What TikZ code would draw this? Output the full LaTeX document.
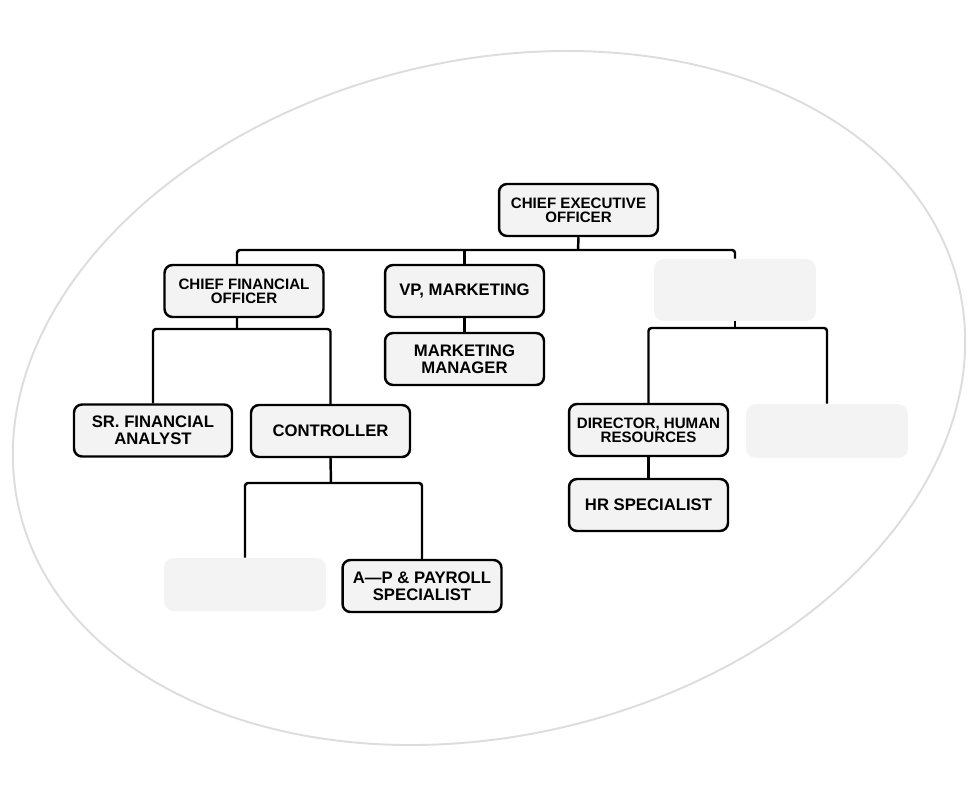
\documentclass[tikz,border=0pt]{standalone}
\usepackage{fontspec}
\setmainfont{Liberation Sans}
\usetikzlibrary{calc}

\definecolor{boxgray}{HTML}{F3F3F3}
\definecolor{ringgray}{HTML}{DDDDDD}

\begin{document}
\begin{tikzpicture}[x=0.02cm, y=-0.02cm,
    post/.style={draw, line width=1.4pt, rounded corners=0.16cm, fill=boxgray, minimum width=3.18cm, minimum height=1.04cm, inner sep=0pt, align=center, font=\fontsize{9.5}{9.4}\selectfont\bfseries},
    small/.style={font=\fontsize{8.6}{7.9}\selectfont\bfseries},
    vacant/.style={fill=boxgray, rounded corners=0.2cm, minimum width=3.24cm, inner sep=0pt},
    link/.style={line width=1.4pt, rounded corners=0.06cm}
]
\useasboundingbox[fill=white] (0,0) rectangle (980,798);
\draw[ringgray, line width=1.1pt, rotate around={13.5:(489,398)}] (489,398) ellipse [x radius=9.66cm, y radius=6.75cm];

\node[post, small] (ceo) at (578.5,210) {CHIEF EXECUTIVE\\OFFICER};
\node[post, small] (cfo) at (244,291) {CHIEF FINANCIAL\\OFFICER};
\node[post] (vp) at (464.5,291) {VP, MARKETING};
\node[vacant, minimum height=1.24cm] (vacA) at (735,290) {};
\node[post] (mm) at (464.5,359) {MARKETING\\MANAGER};
\node[post, minimum width=3.16cm] (sfa) at (153,430.5) {SR. FINANCIAL\\ANALYST};
\node[post] (ctrl) at (330.5,431) {CONTROLLER};
\node[post, small] (dhr) at (648.5,430) {DIRECTOR, HUMAN\\RESOURCES};
\node[vacant, minimum height=1.08cm] (vacB) at (827,431) {};
\node[post] (hrs) at (648.5,505) {HR SPECIALIST};
\node[vacant, minimum height=1.06cm] (vacC) at (245,584.5) {};
\node[post] (ap) at (422,586) {A---P \& PAYROLL\\SPECIALIST};

% top level
\coordinate (ceobus) at (578,250);
\draw[link] (ceo.south) -- (ceobus);
\draw[link] ([xshift=-0.14cm]cfo.north) |- (ceobus) -| (vacA.north);
\draw[link] (vp.north) -- (vp.north |- ceobus);

% finance
\coordinate (cfobus) at (237,329);
\draw[link] ([xshift=-0.14cm]cfo.south) -- (cfobus);
\draw[link] (sfa.north) |- (cfobus) -| (ctrl.north);
\coordinate (ctrlbus) at (331,483);
\draw[link] (ctrl.south) -- (ctrlbus);
\draw[link] (vacC.north) |- (ctrlbus) -| (ap.north);

% marketing
\draw[link] (vp.south) -- (mm.north);

% hr
\coordinate (hrbus) at (735,328);
\draw[link] (vacA.south) -- (hrbus);
\draw[link] (dhr.north) |- (hrbus) -| (vacB.north);
\draw[link] (dhr.south) -- (hrs.north);
\end{tikzpicture}
\end{document}
